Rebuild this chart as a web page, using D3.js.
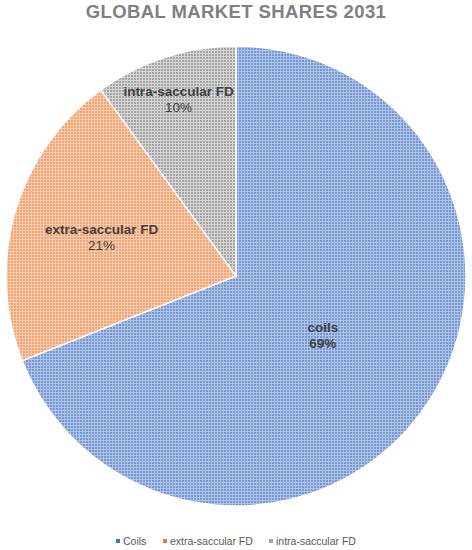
<!DOCTYPE html>
<html>
<head>
<meta charset="utf-8">
<script src="https://cdn.jsdelivr.net/npm/d3@7"></script>
<style>
  body { margin: 0; background: #fff; }
  svg { display: block; font-family: "Liberation Sans", Arial, sans-serif; }
</style>
</head>
<body>
<div id="chart"></div>
<script>
// chart data
var labels = ["coils", "extra-saccular FD", "intra-saccular FD"];
var legendNames = ["Coils", "extra-saccular FD", "intra-saccular FD"];
var shares = [69, 21, 10];
var title = "GLOBAL MARKET SHARES 2031";

var width = 472,
    height = 550,
    cx = 236,
    cy = 276,
    radius = 230;

// light / dark tones for the dotted fill
var lightCols = ["#b0c4e8", "#f8cbad", "#d6d6d6"];
var darkCols = ["#7496d3", "#f0a374", "#a3a3a3"];
var legendCols = ["#4472c4", "#ed7d31", "#a5a5a5"];
// label distance from centre, per slice
var labelR = [105, 140, 186];

var svg = d3.select("#chart").append("svg")
    .attr("width", width)
    .attr("height", height);

var defs = svg.append("defs");
labels.forEach(function(l, i) {
    var p = defs.append("pattern")
        .attr("id", "pat" + i)
        .attr("width", 3).attr("height", 3)
        .attr("patternUnits", "userSpaceOnUse");
    p.append("rect").attr("width", 3).attr("height", 3).attr("fill", lightCols[i]);
    p.append("rect").attr("width", 2).attr("height", 2).attr("fill", darkCols[i]);
});

svg.append("text")
    .attr("x", width / 2)
    .attr("y", 18)
    .attr("text-anchor", "middle")
    .style("font-size", "18.5px")
    .style("font-weight", "bold")
    .style("letter-spacing", "0.4px")
    .style("fill", "#808080")
    .text(title);

var pie = d3.pie().sort(null).value(function(d) { return d; });
var arc = d3.arc().innerRadius(0).outerRadius(radius);
var arcs = pie(shares);

var g = svg.append("g").attr("transform", "translate(" + cx + "," + cy + ")");

g.selectAll("path").data(arcs).enter().append("path")
    .attr("d", arc)
    .attr("fill", function(d, i) { return "url(#pat" + i + ")"; })
    .attr("stroke", "#fff")
    .attr("stroke-width", 1.5);

var lab = g.selectAll("g.lab").data(arcs).enter().append("g")
    .attr("class", "lab")
    .attr("transform", function(d, i) {
        var a = (d.startAngle + d.endAngle) / 2;
        return "translate(" + (Math.sin(a) * labelR[i]) + "," + (-Math.cos(a) * labelR[i]) + ")";
    });

lab.append("text")
    .attr("text-anchor", "middle")
    .attr("y", -3)
    .style("font-size", "13.5px")
    .style("font-weight", "bold")
    .style("fill", "#404040")
    .text(function(d, i) { return labels[i]; });

lab.append("text")
    .attr("text-anchor", "middle")
    .attr("y", 13)
    .style("font-size", "13.5px")
    .style("font-weight", function(d, i) { return i === 0 ? "bold" : "normal"; })
    .style("fill", "#404040")
    .text(function(d) { return d.data + "%"; });

// legend
var legX = [116, 163, 269];
var leg = svg.append("g").selectAll("g").data(legendNames).enter().append("g")
    .attr("transform", function(d, i) { return "translate(" + legX[i] + ",541)"; });
leg.append("rect")
    .attr("x", 0).attr("y", -2).attr("width", 4).attr("height", 4)
    .attr("fill", function(d, i) { return legendCols[i]; });
leg.append("text")
    .attr("x", 7).attr("y", 4)
    .style("font-size", "10.5px")
    .style("fill", "#595959")
    .text(function(d) { return d; });
</script>
</body>
</html>
